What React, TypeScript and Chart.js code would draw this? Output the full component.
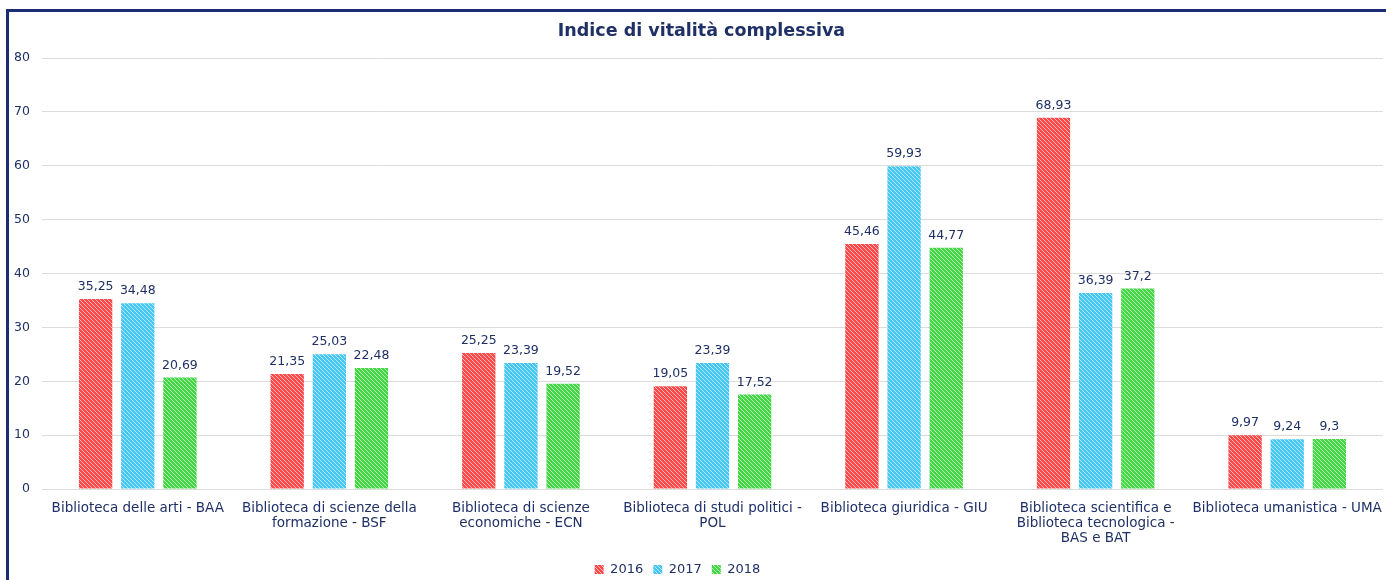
import React, { useEffect, useRef } from "react";
import { Chart, registerables } from "chart.js";

Chart.register(...registerables);

const TITLE = "Indice di vitalità complessiva";
const categories: string[][] = [
  ["Biblioteca delle arti - BAA"],
  ["Biblioteca di scienze della", "formazione - BSF"],
  ["Biblioteca di scienze", "economiche - ECN"],
  ["Biblioteca di studi politici -", "POL"],
  ["Biblioteca giuridica - GIU"],
  ["Biblioteca scientifica e", "Biblioteca tecnologica -", "BAS e BAT"],
  ["Biblioteca umanistica - UMA"],
];
const seriesNames = ["2016", "2017", "2018"];
const values2016 = [35.25, 21.35, 25.25, 19.05, 45.46, 68.93, 9.97];
const values2017 = [34.48, 25.03, 23.39, 23.39, 59.93, 36.39, 9.24];
const values2018 = [20.69, 22.48, 19.52, 17.52, 44.77, 37.2, 9.3];
const seriesColors = ["#ff4848", "#45c6f4", "#44d645"];

const NAVY = "#1f3066";
const FONT = "'DejaVu Sans', Verdana, sans-serif";

function makePattern(color: string): CanvasPattern | string {
  const c = document.createElement("canvas");
  c.width = 4;
  c.height = 4;
  const ctx = c.getContext("2d");
  if (!ctx) return color;
  ctx.fillStyle = color;
  ctx.fillRect(0, 0, 4, 4);
  ctx.strokeStyle = "rgba(255,255,255,0.7)";
  ctx.lineWidth = 0.9;
  ctx.beginPath();
  ctx.moveTo(-1, -1);
  ctx.lineTo(5, 5);
  ctx.moveTo(-1, 3);
  ctx.lineTo(1, 5);
  ctx.moveTo(3, -1);
  ctx.lineTo(5, 1);
  ctx.stroke();
  const p = ctx.createPattern(c, "repeat");
  return p || color;
}

const valueLabels = {
  id: "valueLabels",
  afterDatasetsDraw(chart: any) {
    const ctx = chart.ctx;
    ctx.save();
    ctx.font = `12.5px ${FONT}`;
    ctx.fillStyle = NAVY;
    ctx.textAlign = "center";
    ctx.textBaseline = "bottom";
    chart.data.datasets.forEach((ds: any, i: number) => {
      const meta = chart.getDatasetMeta(i);
      meta.data.forEach((bar: any, j: number) => {
        const v = ds.data[j];
        ctx.fillText(String(v).replace(".", ","), bar.x, bar.y - 6);
      });
    });
    ctx.restore();
  },
};

// nudge title and legend horizontally to match the reference placement
const boxShift = {
  id: "boxShift",
  afterLayout(chart: any) {
    const t = chart.titleBlock;
    if (t) {
      t.left += 6;
      t.right += 6;
    }
    const l = chart.legend;
    if (l) {
      l.left -= 18;
      l.right -= 18;
    }
  },
};

export default function App() {
  const ref = useRef<HTMLCanvasElement>(null);
  useEffect(() => {
    if (!ref.current) return;
    const all = [values2016, values2017, values2018];
    const chart = new Chart(ref.current, {
      type: "bar",
      data: {
        labels: categories,
        datasets: all.map((d, i) => ({
          label: seriesNames[i],
          data: d,
          backgroundColor: makePattern(seriesColors[i]) as any,
          borderWidth: 0,
          categoryPercentage: 0.66,
          barPercentage: 0.79,
        })),
      },
      options: {
        animation: false,
        responsive: false,
        maintainAspectRatio: false,
        layout: { padding: { left: 8, right: 3, top: 0, bottom: 0 } },
        plugins: {
          title: {
            display: true,
            text: TITLE,
            color: NAVY,
            font: { family: FONT, size: 17.5, weight: "bold" },
            padding: { top: 21, bottom: 16 },
          },
          legend: {
            position: "bottom",
            labels: {
              color: NAVY,
              font: { family: FONT, size: 13 },
              boxWidth: 9,
              boxHeight: 9,
              padding: 10,
            },
          },
          tooltip: { enabled: false },
        },
        scales: {
          x: {
            grid: { display: false, drawTicks: false },
            border: { display: false },
            ticks: {
              color: NAVY,
              font: { family: FONT, size: 13.5, lineHeight: 1.12 },
              padding: 12,
              maxRotation: 0,
              autoSkip: false,
            },
            afterFit(scale: any) {
              scale.height = 64;
              scale.paddingLeft = 0;
              scale.paddingRight = 0;
            },
          },
          y: {
            min: 0,
            max: 80,
            grid: { color: "#dcdcdc", drawTicks: false },
            border: { display: false },
            ticks: {
              stepSize: 10,
              color: NAVY,
              font: { family: FONT, size: 12.5 },
              padding: 12,
            },
            afterFit(scale: any) {
              scale.width = 34;
            },
          },
        },
      },
      plugins: [valueLabels, boxShift],
    });
    return () => chart.destroy();
  }, []);
  return (
    <div
      style={{
        position: "fixed",
        left: 0,
        top: 0,
        width: 1386,
        height: 580,
        background: "#fff",
        overflow: "hidden",
      }}
    >
      <canvas ref={ref} width={1386} height={586} style={{ display: "block" }} />
      <div
        style={{
          position: "absolute",
          left: 6,
          top: 9,
          right: 0,
          bottom: -10,
          borderTop: "3px solid #1b2d72",
          borderLeft: "3px solid #1b2d72",
          pointerEvents: "none",
        }}
      />
    </div>
  );
}
